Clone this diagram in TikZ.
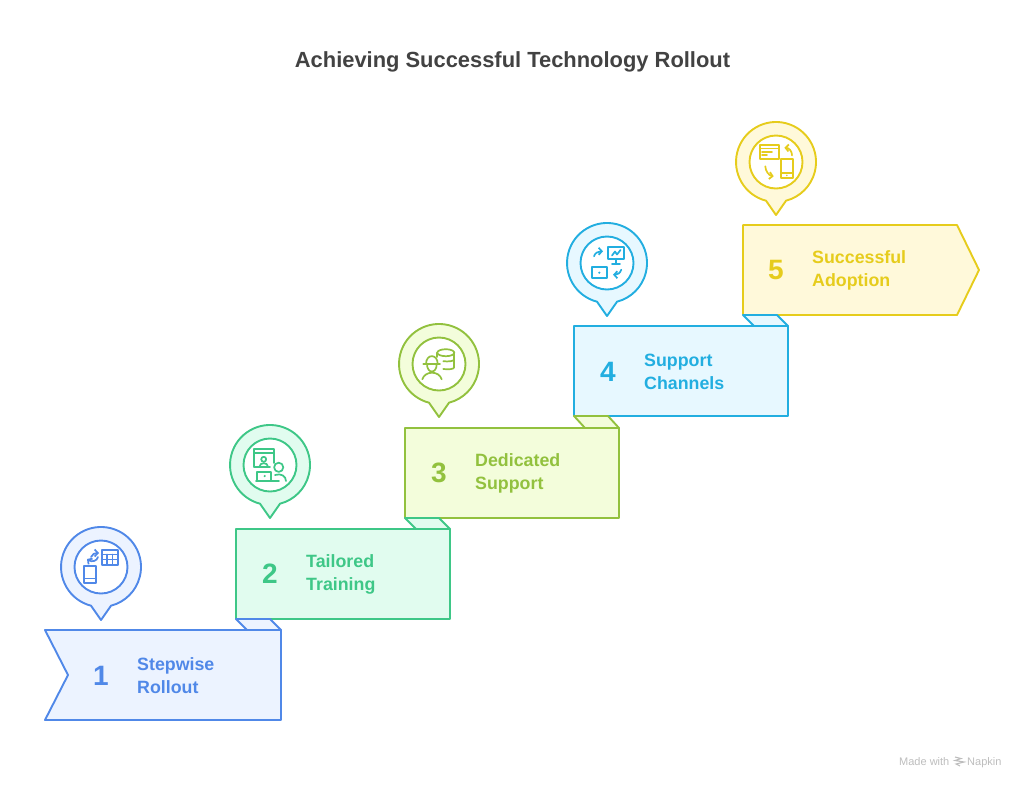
\documentclass[tikz,border=0pt]{standalone}
\usepackage{fontspec}
\setmainfont{Liberation Sans}
\usetikzlibrary{arrows.meta}
\definecolor{rolloutblue}{HTML}{5088E8}
\definecolor{rolloutbluefill}{HTML}{ECF3FF}
\definecolor{trainingreen}{HTML}{3EC787}
\definecolor{trainingreenfill}{HTML}{E1FCEF}
\definecolor{supportlime}{HTML}{92C13E}
\definecolor{supportlimefill}{HTML}{F3FDDB}
\definecolor{channelcyan}{HTML}{22AEE0}
\definecolor{channelcyanfill}{HTML}{E7F8FF}
\definecolor{adoptyellow}{HTML}{E6CC1C}
\definecolor{adoptyellowfill}{HTML}{FFF9DA}
\definecolor{titlegray}{HTML}{424242}
\definecolor{markgray}{HTML}{BDBDBD}
\tikzset{
  band/.style={line width=1.9, line join=round},
  icon/.style={line width=1.7, line join=round, line cap=round,
    >={Straight Barb[length=3.2,width=7,line width=1.7]}},
  stepnum/.style={font=\fontsize{28}{28}\selectfont\bfseries},
  steptext/.style={anchor=west, align=left, inner sep=0,
    font=\fontsize{17.8}{22.6}\selectfont\bfseries},
  marktext/.style={anchor=base west, inner sep=0, text=markgray,
    font=\fontsize{11}{11}\selectfont},
}
% the pin: outer drop with a ring in it
\newcommand{\pinmark}[1]{
  \draw[band,draw=#1,fill=#1fill] (0,53) -- (-10,38.7)
    arc[start angle=104.5,end angle=435.5,radius=40] -- cycle;
  \draw[band,draw=#1,fill=white] (0,0) circle[radius=26.5];
}
\begin{document}
\begin{tikzpicture}[x=1pt,y=-1pt]
  \useasboundingbox (0,0) rectangle (1024,788);
  \node[text=titlegray,font=\fontsize{21.9}{22}\selectfont\bfseries] (title) at (512.5,62)
    {Achieving Successful Technology Rollout};

  % steps
  \draw[band,draw=rolloutblue,fill=rolloutbluefill]
    (45,630) -- (281,630) -- (281,720) -- (45,720) -- (68,675) -- cycle;
  \draw[band,draw=trainingreen,fill=trainingreenfill] (236,529) rectangle (450,619);
  \draw[band,draw=supportlime,fill=supportlimefill] (405,428) rectangle (619,518);
  \draw[band,draw=channelcyan,fill=channelcyanfill] (574,326) rectangle (788,416);
  \draw[band,draw=adoptyellow,fill=adoptyellowfill]
    (743,225) -- (957,225) -- (979,270) -- (957,315) -- (743,315) -- cycle;

  % flaps
  \draw[band,draw=rolloutblue,fill=rolloutbluefill]
    (247,630) -- (236,619) -- (270,619) -- (281,630) -- cycle;
  \draw[band,draw=trainingreen,fill=trainingreenfill]
    (416,529) -- (405,518) -- (439,518) -- (450,529) -- cycle;
  \draw[band,draw=supportlime,fill=supportlimefill]
    (585,428) -- (574,416) -- (608,416) -- (619,428) -- cycle;
  \draw[band,draw=channelcyan,fill=channelcyanfill]
    (754,326) -- (743,315) -- (777,315) -- (788,326) -- cycle;

  % labels
  \node[stepnum,text=rolloutblue] (num1) at (101,676) {1};
  \node[steptext,text=rolloutblue] (label1) at (137,675.5) {Stepwise\\Rollout};
  \node[stepnum,text=trainingreen] (num2) at (270,574) {2};
  \node[steptext,text=trainingreen] (label2) at (306,574.5) {Tailored\\Training};
  \node[stepnum,text=supportlime] (num3) at (439,473) {3};
  \node[steptext,text=supportlime] (label3) at (475,473.5) {Dedicated\\Support};
  \node[stepnum,text=channelcyan] (num4) at (608,372) {4};
  \node[steptext,text=channelcyan] (label4) at (644,372) {Support\\Channels};
  \node[stepnum,text=adoptyellow] (num5) at (776,270) {5};
  \node[steptext,text=adoptyellow] (label5) at (812,270.5) {Successful\\Adoption};

  % pin 1
  \begin{scope}[shift={(101,567)}]
    \pinmark{rolloutblue}
    \begin{scope}[icon,draw=rolloutblue]
      \draw (0.7,-17) rectangle (16.7,-2);
      \draw (0.7,-12.5) -- (16.7,-12.5);
      \draw (0.7,-7.5) -- (16.7,-7.5);
      \draw (6,-12.5) -- (6,-2);
      \draw (11.4,-12.5) -- (11.4,-2);
      \draw (-16.7,-1) rectangle (-5.3,16);
      \draw (-16.7,11.5) -- (-5.3,11.5);
      \draw[->] (-10,-10) .. controls (-9,-13) and (-6,-14) .. (-2,-14);
      \draw[->] (-3,-10) .. controls (-4,-6) and (-9,-4.5) .. (-14,-8);
    \end{scope}
  \end{scope}

  % pin 2
  \begin{scope}[shift={(270,465)}]
    \pinmark{trainingreen}
    \begin{scope}[icon,draw=trainingreen]
      \draw (-16,1.7) -- (-16,-15.7) -- (4,-15.7) -- (4,-2);
      \draw (-16,1.7) -- (0,1.7);
      \draw (-16,-11.7) -- (4,-11.7);
      \draw (-6.3,-5.7) circle[radius=2.5];
      \draw (-10.5,1.7) .. controls (-10.5,-3) and (-2,-3) .. (-2,1.7);
      \draw (-12.7,16) -- (-12.7,6.7) -- (1,6.7) -- (1,16);
      \draw (-14,16) -- (9,16);
      \fill[trainingreen] (-5.3,11) circle[radius=1.2];
      \draw (8.7,2.3) circle[radius=4.6];
      \draw (5,10) .. controls (11,8) and (16,11) .. (16,16);
    \end{scope}
  \end{scope}

  % pin 3
  \begin{scope}[shift={(439,364)}]
    \pinmark{supportlime}
    \begin{scope}[icon,draw=supportlime]
      \draw (-15.7,0) -- (1,0);
      \draw (-13,0) .. controls (-13,-10.5) and (-1.3,-10.5) .. (-1.3,0);
      \draw (-12,0) .. controls (-12,10) and (-2.3,10) .. (-2.3,0);
      \draw (-16.7,15.3) .. controls (-14,6.5) and (0,6.5) .. (2.7,15.3);
      \draw (6.8,-11.3) ellipse[x radius=8.5,y radius=3.5];
      \draw (-1.7,-11.3) -- (-1.7,-7);
      \draw (15.3,-11.3) -- (15.3,3);
      \draw (4.3,-2.8) .. controls (9,-2.3) and (15.3,-2.5) .. (15.3,-5);
      \draw (4.3,5) .. controls (9,5.5) and (15.3,5.5) .. (15.3,3);
    \end{scope}
  \end{scope}

  % pin 4
  \begin{scope}[shift={(607,263)}]
    \pinmark{channelcyan}
    \begin{scope}[icon,draw=channelcyan]
      \draw (1,-16.3) rectangle (17,-4.3);
      \draw (9,-4.3) -- (9,0.7);
      \draw (5,0.7) -- (13,0.7);
      \draw (5,-7.5) -- (8,-11.5) -- (10,-8.5) -- (13.5,-13);
      \draw (-15,4.3) rectangle (0.3,15);
      \fill[channelcyan] (-7.7,9.7) circle[radius=1.2];
      \draw[->] (-13,-6.7) .. controls (-12,-10) and (-9,-11.7) .. (-4,-11.7);
      \draw[->] (14.3,6.7) .. controls (13,10) and (11,11.7) .. (6,11.7);
    \end{scope}
  \end{scope}

  % pin 5
  \begin{scope}[shift={(776,162)}]
    \pinmark{adoptyellow}
    \begin{scope}[icon,draw=adoptyellow]
      \draw (-16.3,-17.3) rectangle (2.7,-2.7);
      \draw (-16.3,-13.5) -- (2.7,-13.5);
      \draw (-14,-10) -- (-4,-10);
      \draw (-14,-6.7) -- (-9,-6.7);
      \draw (5,-3.3) rectangle (16.7,15.7);
      \draw (5,11) -- (16.7,11);
      \fill[adoptyellow] (10.8,13.4) circle[radius=0.9];
      \draw[->] (16,-6.7) .. controls (16,-11) and (13,-14) .. (8.3,-14.3);
      \draw[->] (-10.7,4.3) .. controls (-10.7,9) and (-7,13.5) .. (-2.3,14.3);
    \end{scope}
  \end{scope}

  % watermark
  \node[marktext] (made) at (899,765.5) {Made with};
  \node[marktext] (napkin) at (967,765.5) {Napkin};
  \draw[line width=1.1,markgray] (955,757) -- (961,758.5) -- (955,760.5) -- (964,762) -- (956,764) -- (960,766);
\end{tikzpicture}
\end{document}
